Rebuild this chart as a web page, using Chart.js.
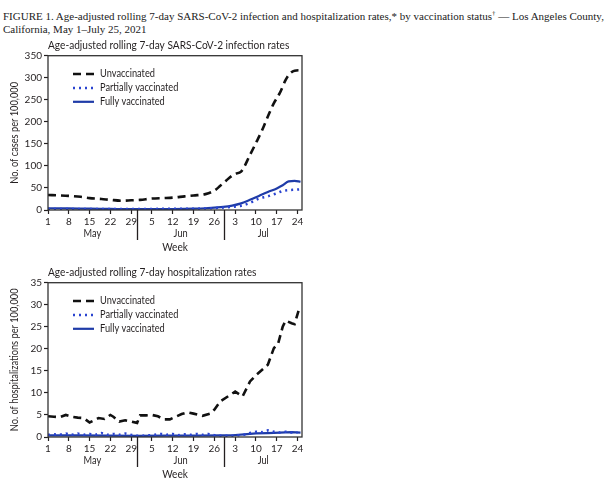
<!DOCTYPE html>
<html>
<head>
<meta charset="utf-8">
<script src="https://cdn.jsdelivr.net/npm/chart.js@4.4.1/dist/chart.umd.min.js"></script>
<style>
  body { margin: 0; background: #fff; width: 611px; height: 500px; position: relative; overflow: hidden; }
  #fig { position: absolute; left: 3px; top: 7px; font: 11px "Liberation Serif", serif; letter-spacing: 0px; line-height: 13.5px; color: #222; white-space: nowrap; }
  .box { position: absolute; left: 0; width: 320px; height: 220px; }
</style>
</head>
<body>
<div id="fig">FIGURE 1. Age-adjusted rolling 7-day SARS-CoV-2 infection and hospitalization rates,* by vaccination status<sup style="font-size:7px">†</sup> — Los Angeles County,<br>California, May 1–July 25, 2021</div>
<div class="box" style="top:36px"><canvas id="cases"></canvas></div>
<div class="box" style="top:263px"><canvas id="hosp"></canvas></div>
<script>
// days counted from May 1 (day 0)
const TICK_DAYS = [0, 7, 14, 21, 28, 35, 42, 49, 56, 63, 70, 77, 84];
const TICK_LABELS = ['1', '8', '15', '22', '29', '5', '12', '19', '26', '3', '10', '17', '24'];
const MONTHS = ['May', 'Jun', 'Jul'];
const MONTH_BOUNDS = [29.9, 59.4];
const SERIES_NAMES = ['Unvaccinated', 'Partially vaccinated', 'Fully vaccinated'];

// infection rates
const CASE_DAYS_U = [0, 4, 7, 11, 14, 18, 21, 25, 28, 31, 35, 39, 42, 46, 49, 53, 56, 58, 60, 62, 63, 65, 68, 70, 72, 74, 76, 78, 80, 81, 83, 85];
const CASE_UNVAX = [34, 33, 32, 30, 27, 25, 23, 21, 22, 23, 26, 27, 28, 31, 33, 36, 44, 55, 67, 78, 82, 87, 125, 152, 180, 212, 242, 265, 295, 306, 316, 317];
const CASE_DAYS_V = [0, 7, 14, 21, 28, 35, 42, 49, 53, 56, 59, 62, 65, 68, 71, 74, 77, 79, 81, 83, 85];
const CASE_PARTIAL = [2.5, 2.5, 2.5, 2.5, 2.5, 2.5, 3, 3, 3.5, 4.5, 5.5, 7, 9.5, 16, 26, 31, 38, 43, 45, 46, 47];
const CASE_FULLY = [4, 3.5, 3, 2.5, 2, 2, 2.2, 3, 4, 5.5, 7, 10, 15, 23, 32, 41, 49, 56, 65, 66, 64];

// hospitalization rates
const HOSP_DAYS_U = [0, 2, 4, 6, 8, 10, 12, 14, 15, 17, 19, 21, 22, 24, 26, 28, 30, 31, 33, 35, 37, 39, 41, 43, 45, 47, 49, 52, 55, 56, 58, 61, 63, 65.5, 68, 70, 72, 74, 76, 77.5, 79, 80, 82, 83, 84.5];
const HOSP_UNVAX = [4.7, 4.6, 4.5, 5.0, 4.6, 4.4, 4.3, 3.3, 3.6, 4.3, 4.1, 5.0, 4.6, 3.5, 3.8, 3.5, 3.2, 4.9, 4.9, 5.0, 4.7, 4.0, 4.0, 4.6, 5.2, 5.6, 5.3, 4.8, 5.4, 6.2, 8.1, 9.4, 10.3, 9.2, 12.6, 14.0, 15.2, 16.4, 20.1, 21.3, 25.0, 26.4, 25.8, 25.6, 29.0];
const HOSP_DAYS_P = [0, 2, 4, 6, 8, 10, 12, 14, 16, 18, 20, 22, 24, 26, 28, 30, 32, 34, 36, 38, 40, 42, 44, 46, 48, 50, 52, 54, 56, 58, 60, 62, 64, 66, 68, 70, 72, 74, 76, 78, 80, 82, 84];
const HOSP_PARTIAL = [0.5, 0.6, 0.5, 0.8, 0.5, 0.8, 0.5, 0.7, 0.5, 0.9, 0.5, 0.7, 0.5, 0.8, 0.5, 0.3, 0.3, 0.4, 0.5, 0.7, 0.5, 0.7, 0.4, 0.6, 0.5, 0.7, 0.5, 0.7, 0.4, 0.3, 0.3, 0.3, 0.4, 0.5, 0.9, 1.2, 1.1, 1.5, 1.2, 1.0, 1.2, 1.0, 1.0];
const HOSP_DAYS_F = [0, 10, 20, 30, 40, 50, 58, 62, 66, 70, 74, 78, 82, 85];
const HOSP_FULLY = [0.35, 0.35, 0.3, 0.25, 0.3, 0.3, 0.35, 0.4, 0.6, 0.8, 0.9, 1.0, 1.1, 1.0];

const INK = '#231f20';
const FONT = 'Lato, "Open Sans", sans-serif';
const SX = 0.88; // original face is narrower than Lato
const STYLES = [
  { color: '#111', width: 2.6, dash: [8, 5] },
  { color: '#2a44d0', width: 2.5, dash: [2, 4] },
  { color: '#1f3ca8', width: 2.2, dash: [] }
];

function pts(xs, ys) { return xs.map((x, i) => ({ x: x, y: ys[i] })); }

// text squeezed horizontally along its own direction
function label(ctx, text, x, y, size, align, rot) {
  ctx.save();
  ctx.translate(x, y);
  if (rot) ctx.rotate(rot);
  ctx.scale(SX, 1);
  ctx.font = size + 'px ' + FONT;
  ctx.textAlign = align;
  ctx.textBaseline = 'middle';
  ctx.fillStyle = INK;
  ctx.fillText(text, 0, 0);
  ctx.restore();
}

// box, titles, month row, legend
const decor = {
  id: 'decor',
  afterDraw(chart, args, opts) {
    const { ctx, chartArea: a, scales: { x } } = chart;
    ctx.save();
    ctx.strokeStyle = '#333';
    ctx.lineWidth = 1.3;
    ctx.strokeRect(a.left, a.top, a.right - a.left, a.bottom - a.top);

    label(ctx, opts.title, a.left, a.top - 10.5, 11.5, 'left');
    label(ctx, opts.yTitle, 15, (a.top + a.bottom) / 2, 10.5, 'center', -Math.PI / 2);

    // month separators + labels
    ctx.lineWidth = 1.3;
    ctx.strokeStyle = INK;
    const edges = [a.left].concat(MONTH_BOUNDS.map(d => x.getPixelForValue(d)), [a.right]);
    MONTH_BOUNDS.forEach(d => {
      const px = Math.round(x.getPixelForValue(d)) + 0.5;
      ctx.beginPath();
      ctx.moveTo(px, a.bottom);
      ctx.lineTo(px, a.bottom + 30);
      ctx.stroke();
    });
    MONTHS.forEach((m, i) => label(ctx, m, (edges[i] + edges[i + 1]) / 2, a.bottom + 24, 10.5, 'center'));
    label(ctx, 'Week', (a.left + a.right) / 2, a.bottom + 37.5, 11.5, 'center');

    // legend inside plot
    SERIES_NAMES.forEach((name, i) => {
      const s = STYLES[i];
      const y = a.top + 18.3 + i * 13.9;
      ctx.save();
      ctx.strokeStyle = s.color;
      ctx.lineWidth = s.width;
      ctx.setLineDash(s.dash);
      ctx.beginPath();
      ctx.moveTo(a.left + 25, y);
      ctx.lineTo(a.left + 46, y);
      ctx.stroke();
      ctx.restore();
      label(ctx, name, a.left + 52, y, 10.5, 'left');
    });
    ctx.restore();
  }
};

function makeChart(id, title, yTitle, yMax, yStep, series, tension) {
  const datasets = series.map((d, i) => ({
    label: SERIES_NAMES[i],
    data: d,
    borderColor: STYLES[i].color,
    borderWidth: STYLES[i].width,
    borderDash: STYLES[i].dash,
    pointRadius: 0,
    fill: false,
    tension: tension,
    cubicInterpolationMode: tension ? 'monotone' : 'default'
  }));
  return new Chart(document.getElementById(id), {
    type: 'line',
    data: { datasets: datasets },
    options: {
      responsive: true,
      maintainAspectRatio: false,
      animation: false,
      layout: { padding: { left: 0, right: 18, top: 19.7, bottom: 0 } },
      plugins: {
        legend: { display: false },
        tooltip: { enabled: false },
        decor: { title: title, yTitle: yTitle }
      },
      scales: {
        x: {
          type: 'linear', min: 0, max: 85.5,
          afterBuildTicks: s => { s.ticks = TICK_DAYS.map(v => ({ value: v })); },
          ticks: {
            callback: (v, i) => TICK_LABELS[i],
            font: { family: FONT, size: 10 }, color: INK,
            maxRotation: 0, autoSkip: false, padding: 2
          },
          grid: { drawOnChartArea: false, tickLength: 4, tickColor: INK, tickWidth: 1.2 },
          border: { display: false },
          afterFit: s => { s.height = 46; }
        },
        y: {
          min: 0, max: yMax,
          ticks: { stepSize: yStep, font: { family: FONT, size: 10 }, color: INK, padding: 2 },
          grid: { drawOnChartArea: false, tickLength: 4, tickColor: INK, tickWidth: 1.2 },
          border: { display: false },
          afterFit: s => { s.width = 48; }
        }
      }
    },
    plugins: [decor]
  });
}

makeChart('cases', 'Age-adjusted rolling 7-day SARS-CoV-2 infection rates', 'No. of cases per 100,000', 350, 50,
  [pts(CASE_DAYS_U, CASE_UNVAX), pts(CASE_DAYS_V, CASE_PARTIAL), pts(CASE_DAYS_V, CASE_FULLY)], 0.3);
makeChart('hosp', 'Age-adjusted rolling 7-day hospitalization rates', 'No. of hospitalizations per 100,000', 35, 5,
  [pts(HOSP_DAYS_U, HOSP_UNVAX), pts(HOSP_DAYS_P, HOSP_PARTIAL), pts(HOSP_DAYS_F, HOSP_FULLY)], 0);
</script>
</body>
</html>
